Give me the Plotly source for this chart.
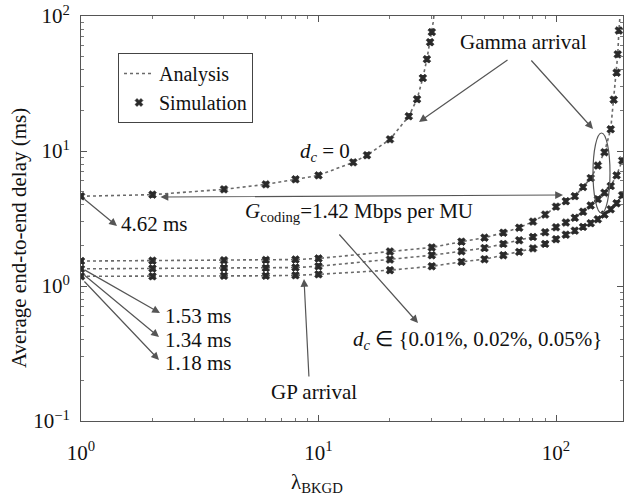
import plotly.graph_objects as go

# ---------------- data ----------------
x_dc0_sim = [1, 2, 4, 6, 8, 10, 14, 16, 20, 24, 26, 27.5, 28.6, 29.5, 30]
y_dc0_sim = [4.62, 4.75, 5.2, 5.66, 6.17, 6.6, 8.24, 9.3, 12.2, 18.1, 24.2, 34.7, 47.9, 64, 76]
x_dc0_ana = [1, 2, 4, 6, 8, 10, 14, 16, 20, 24, 26, 27.5, 28.6, 29.5, 30, 30.4, 30.6]
y_dc0_ana = [4.62, 4.75, 5.2, 5.66, 6.17, 6.6, 8.24, 9.3, 12.2, 18.1, 24.2, 34.7, 47.9, 64, 76, 90, 100]

x_a = [1, 2, 4, 6, 8, 10, 20, 30, 40, 50, 60, 70, 80, 90, 100, 110, 120, 130, 140, 150, 160, 170, 175, 180, 182, 184]
y_a = [1.53, 1.54, 1.55, 1.56, 1.57, 1.60, 1.80, 1.93, 2.13, 2.28, 2.48, 2.70, 3.00, 3.38, 3.87, 4.25, 4.63,
       5.40, 6.30, 7.80, 9.80, 14.5, 24.0, 38.0, 52.0, 78.0]
x_a_ana = x_a + [186]
y_a_ana = y_a + [100]

x_bc = [1, 2, 4, 6, 8, 10, 20, 30, 40, 50, 60, 70, 80, 90, 100, 110, 120, 130, 140, 150, 160, 170, 180, 190]
y_b = [1.34, 1.35, 1.36, 1.36, 1.37, 1.40, 1.57, 1.69, 1.81, 1.91, 2.05, 2.18, 2.31, 2.50, 2.72, 2.95, 3.20,
       3.55, 3.95, 4.40, 4.90, 5.50, 6.60, 8.50]
y_c = [1.18, 1.18, 1.19, 1.19, 1.20, 1.22, 1.31, 1.40, 1.51, 1.58, 1.69, 1.79, 1.90, 2.05, 2.22, 2.40, 2.57,
       2.74, 2.92, 3.12, 3.38, 3.70, 4.10, 4.70]

legend_names = ["Analysis", "Simulation"]
x_tickvals = [1, 10, 100]
x_ticktext = ["10<sup>0</sup>", "10<sup>1</sup>", "10<sup>2</sup>"]
y_tickvals = [0.1, 1, 10, 100]
y_ticktext = ["10<sup>−1</sup>", "10<sup>0</sup>", "10<sup>1</sup>", "10<sup>2</sup>"]

# ---------------- styling ----------------
W, H = 624, 495
L, R, T, B = 81, 623, 16, 421
FONT = "Liberation Serif"
FS = 21
LINE_C = "#6a6a6a"
MARK_C = "#2a2a2a"
ARROW_C = "#555555"
TXT_C = "#111111"


def px(xp):
    return (xp - L) / (R - L)


def py(yp):
    return (B - yp) / (B - T)


fig = go.Figure()

ana_sets = [(x_dc0_ana, y_dc0_ana), (x_a_ana, y_a_ana), (x_bc, y_b), (x_bc, y_c)]
sim_sets = [(x_dc0_sim, y_dc0_sim), (x_a, y_a), (x_bc, y_b), (x_bc, y_c)]

for i, (xs, ys) in enumerate(ana_sets):
    fig.add_trace(go.Scatter(x=xs, y=ys, mode="lines", name=legend_names[0],
                             line=dict(color=LINE_C, width=1.6, dash="dot"),
                             showlegend=(i == 0), legendgroup="ana"))
for i, (xs, ys) in enumerate(sim_sets):
    fig.add_trace(go.Scatter(x=xs, y=ys, mode="markers", name=legend_names[1],
                             marker=dict(symbol="x", size=7, color=MARK_C,
                                         line=dict(width=0.6, color=MARK_C)),
                             error_y=dict(type="percent", value=4, color=MARK_C, thickness=1.2, width=3),
                             showlegend=(i == 0), legendgroup="sim"))

ann = []


def arrow(hx, hy, tx, ty, side="end"):
    ann.append(dict(xref="paper", yref="paper", x=px(hx), y=py(hy), ax=tx - hx, ay=ty - hy,
                    text="", showarrow=True, arrowhead=2, arrowsize=1.3, arrowwidth=1.2,
                    arrowcolor=ARROW_C, arrowside=side, startarrowhead=2, startarrowsize=1.3))


def text(x, y, s, anchor="center", size=FS, angle=0):
    ann.append(dict(xref="paper", yref="paper", x=px(x), y=py(y), text=s, showarrow=False,
                    xanchor=anchor, yanchor="middle", textangle=angle,
                    font=dict(family=FONT, size=size, color=TXT_C)))


# Gamma arrival
text(523, 42, "Gamma arrival")
arrow(419, 122, 509, 59)
arrow(593, 129, 530, 59)
# d_c = 0
text(298, 152, "<i>d</i><sub><i>c</i></sub> = 0", anchor="left")
# G_coding double arrow
arrow(563, 195, 159, 197, side="end+start")
text(243, 212, "<i>G</i><sub>coding</sub>=1.42 Mbps per MU", anchor="left")
# 4.62 ms
arrow(117, 226, 83, 198)
text(119, 224, "4.62 ms", anchor="left")
# 1.53/1.34/1.18 ms
arrow(160, 313, 83, 269)
arrow(159, 337, 83, 274)
arrow(159, 360, 83, 280)
text(163, 316, "1.53 ms", anchor="left")
text(163, 340, "1.34 ms", anchor="left")
text(163, 363, "1.18 ms", anchor="left")
# GP arrival
arrow(304, 279, 309, 378)
text(269, 392, "GP arrival", anchor="left")
# d_c set
arrow(418, 323, 338, 233)
text(351, 340, "<i>d</i><sub><i>c</i></sub> ∈ {0.01%, 0.02%, 0.05%}", anchor="left")
# axis titles
text(317, 483, "λ<sub>BKGD</sub>")
text(19, 238, "Average end-to-end delay (ms)", angle=-90)

fig.update_layout(
    width=W, height=H,
    margin=dict(l=L, r=W - R, t=T, b=H - B),
    paper_bgcolor="white", plot_bgcolor="white",
    font=dict(family=FONT, size=FS, color=TXT_C),
    annotations=ann,
    shapes=[dict(type="circle", xref="paper", yref="paper",
                 x0=px(593), x1=px(610), y0=py(213), y1=py(133),
                 line=dict(color=ARROW_C, width=1.2))],
    legend=dict(x=px(118), y=py(53), xanchor="left", yanchor="top",
                bordercolor="#444", borderwidth=1, bgcolor="white",
                font=dict(family=FONT, size=20), tracegroupgap=0, itemwidth=30),
)
axis_common = dict(type="log", showgrid=False, zeroline=False, showline=True, linecolor="#555",
                   linewidth=1, mirror="ticks", ticks="inside", ticklen=6, tickcolor="#555",
                   minor=dict(ticks="inside", ticklen=3, tickcolor="#777", dtick="D1", showgrid=False),
                   tickfont=dict(family=FONT, size=FS, color=TXT_C))
fig.update_xaxes(range=[0, (R - L) / 237.5], tickmode="array", tickvals=x_tickvals, ticktext=x_ticktext,
                 ticklabelstandoff=13, **axis_common)
fig.update_yaxes(range=[-1, 2], tickmode="array", tickvals=y_tickvals, ticktext=y_ticktext,
                 ticklabelstandoff=6, **axis_common)

fig.write_html("out.html")
